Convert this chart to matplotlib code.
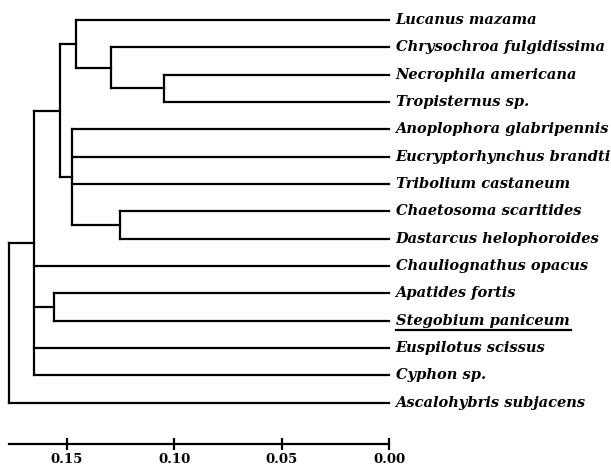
import matplotlib
matplotlib.use("Agg")
import matplotlib.pyplot as plt

leaves = ["Lucanus mazama", "Chrysochroa fulgidissima", "Necrophila americana",
          "Tropisternus sp.", "Anoplophora glabripennis", "Eucryptorhynchus brandti",
          "Tribolium castaneum", "Chaetosoma scaritides", "Dastarcus helophoroides",
          "Chauliognathus opacus", "Apatides fortis", "Stegobium paniceum",
          "Euspilotus scissus", "Cyphon sp.", "Ascalohybris subjacens"]
underlined = ["Stegobium paniceum"]

# internal nodes: name -> height (distance), children (leaf names or node names)
node_names = ["E", "D", "B", "F", "C", "G", "H", "A", "R"]
node_heights = [0.1048, 0.1294, 0.1456, 0.1254, 0.1477, 0.1530, 0.1560, 0.1654, 0.1767]
node_children = [
    ["Necrophila americana", "Tropisternus sp."],
    ["Chrysochroa fulgidissima", "E"],
    ["Lucanus mazama", "D"],
    ["Chaetosoma scaritides", "Dastarcus helophoroides"],
    ["Anoplophora glabripennis", "Eucryptorhynchus brandti", "Tribolium castaneum", "F"],
    ["B", "C"],
    ["Apatides fortis", "Stegobium paniceum"],
    ["G", "Chauliognathus opacus", "H", "Euspilotus scissus", "Cyphon sp."],
    ["A", "Ascalohybris subjacens"],
]
xticks = [0.15, 0.10, 0.05, 0.00]
xtick_labels = ["0.15", "0.10", "0.05", "0.00"]

W, H = 611, 466
fig = plt.figure(figsize=(W / 100, H / 100), dpi=100)
left_px, right_px = 9.3, 389.3
top_px, bot_px = 20.0, 444.0
ax = fig.add_axes([left_px / W, 1 - bot_px / H, (right_px - left_px) / W, (bot_px - top_px) / H])

n = len(leaves)
leaf_step = 27.33
ybottom = (bot_px - top_px) / leaf_step
ax.set_xlim(0.1767, 0.0)
ax.set_ylim(ybottom, 0)

pos = {name: (0.0, i) for i, name in enumerate(leaves)}
heights = dict(zip(node_names, node_heights))
children = dict(zip(node_names, node_children))

lw = 1.6
def place(name):
    if name in pos:
        return pos[name]
    h = heights[name]
    cys = []
    for c in children[name]:
        cx, cy = place(c)
        ax.plot([h, cx], [cy, cy], color="black", lw=lw, solid_capstyle="projecting", clip_on=False)
        cys.append(cy)
    ax.plot([h, h], [min(cys), max(cys)], color="black", lw=lw, solid_capstyle="projecting", clip_on=False)
    y = (min(cys) + max(cys)) / 2
    pos[name] = (h, y)
    return pos[name]

place("R")

fontname = "DejaVu Serif"
texts = []
for i, name in enumerate(leaves):
    t = ax.annotate(name, xy=(0.0, i), xytext=(4.5, 0), textcoords="offset points",
                    ha="left", va="center", fontsize=10.5, fontweight="bold",
                    fontstyle="italic", family=fontname, annotation_clip=False)
    texts.append(t)

for s in ["top", "left", "right"]:
    ax.spines[s].set_visible(False)
ax.spines["bottom"].set_bounds(0.0, 0.1767)
ax.spines["bottom"].set_linewidth(1.6)
ax.set_xticks(xticks)
ax.set_xticklabels(xtick_labels, fontsize=9.5, fontweight="bold", family=fontname)
ax.tick_params(axis="x", direction="inout", length=9, width=1.6, pad=2)
ax.set_yticks([])

fig.canvas.draw()
renderer = fig.canvas.get_renderer()
inv = fig.transFigure.inverted()
for t in texts:
    if t.get_text() in underlined:
        bb = t.get_window_extent(renderer)
        (x0, y0) = inv.transform((bb.x0, bb.y0 - 2))
        (x1, _) = inv.transform((bb.x1 + 2, bb.y0 - 2))
        fig.add_artist(plt.Line2D([x0, x1], [y0, y0], color="black", lw=1.6, transform=fig.transFigure))

fig.savefig("out.png", dpi=100)
